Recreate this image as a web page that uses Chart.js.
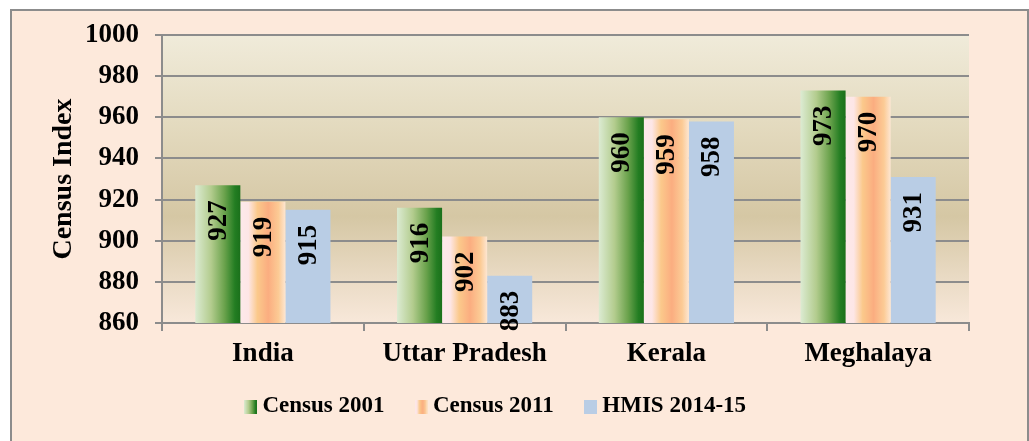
<!DOCTYPE html>
<html>
<head>
<meta charset="utf-8">
<script src="https://cdn.jsdelivr.net/npm/chart.js@4.4.0/dist/chart.umd.min.js"></script>
<style>
html,body{margin:0;padding:0;background:#ffffff;}
canvas{display:block;}
</style>
</head>
<body>
<canvas id="c" width="1029" height="441"></canvas>
<script>
const categories = ['India', 'Uttar Pradesh', 'Kerala', 'Meghalaya'];
const seriesNames = ['Census 2001', 'Census 2011', 'HMIS 2014-15'];
const census2001 = [927, 916, 960, 973];
const census2011 = [919, 902, 959, 970];
const hmis201415 = [915, 883, 958, 931];
const yTicks = { min: 860, max: 1000, step: 20 };

const FONT = "'Liberation Serif', 'Times New Roman', serif";
const GRID = '#8c8c8c';

const gradStops = [
  [[0, '#dcebd2'], [0.35, '#b3cc8e'], [0.65, '#6aa24c'], [0.88, '#237d22'], [1, '#1b701b']],
  [[0, '#fde9ea'], [0.18, '#fde6e6'], [0.38, '#fbc98b'], [0.62, '#fbad80'], [0.85, '#fccb95'], [1, '#fde6d2']],
  [[0, '#b9cde5'], [1, '#b9cde5']]
];

function makeSwatch(stops, w, h) {
  const cv = document.createElement('canvas');
  cv.width = w; cv.height = h;
  const c = cv.getContext('2d');
  const g = c.createLinearGradient(0, 0, w, 0);
  stops.forEach(s => g.addColorStop(s[0], s[1]));
  c.fillStyle = g;
  c.fillRect(0, 0, w, h);
  return cv;
}
const swatches = gradStops.map(s => makeSwatch(s, 13, 14));

const frame = {
  id: 'frame',
  afterLayout(chart) {
    const lg = chart.legend;
    if (lg) { lg.left -= 8; lg.right -= 8; lg.top -= 9; lg.bottom -= 9; }
  },
  beforeDraw(chart) {
    const c = chart.ctx;
    c.save();
    c.fillStyle = '#ffffff';
    c.fillRect(0, 0, chart.width, chart.height);
    c.fillStyle = '#fde9db';
    c.fillRect(11, 10, 1017, 440);
    c.strokeStyle = GRID;
    c.lineWidth = 2;
    c.strokeRect(11, 10, 1017, 440);
    const a = chart.chartArea;
    const g = c.createLinearGradient(0, a.top, 0, a.bottom);
    g.addColorStop(0, '#f0ebda');
    g.addColorStop(0.3, '#e4dbc0');
    g.addColorStop(0.63, '#d5c7a4');
    g.addColorStop(0.85, '#eadbc5');
    g.addColorStop(1, '#f8e8da');
    c.fillStyle = g;
    c.fillRect(a.left, a.top, a.right - a.left, a.bottom - a.top);
    c.restore();
  }
};

const barGradients = {
  id: 'barGradients',
  beforeDatasetsDraw(chart) {
    const c = chart.ctx;
    chart.data.datasets.forEach((ds, di) => {
      const meta = chart.getDatasetMeta(di);
      meta.data.forEach(el => {
        const x0 = el.x - el.width / 2, x1 = el.x + el.width / 2;
        const g = c.createLinearGradient(x0, 0, x1, 0);
        gradStops[di].forEach(s => g.addColorStop(s[0], s[1]));
        el.options = Object.assign({}, el.options, { backgroundColor: g });
      });
    });
  }
};

const valueLabels = {
  id: 'valueLabels',
  afterDatasetsDraw(chart) {
    const c = chart.ctx;
    c.save();
    c.font = 'bold 27px ' + FONT;
    c.fillStyle = '#000000';
    c.textAlign = 'right';
    c.textBaseline = 'middle';
    chart.data.datasets.forEach((ds, di) => {
      const meta = chart.getDatasetMeta(di);
      meta.data.forEach((el, i) => {
        c.save();
        c.translate(el.x + 1, el.y + 15);
        c.rotate(-Math.PI / 2);
        c.fillText(String(ds.data[i]), 0, 0);
        c.restore();
      });
    });
    c.restore();
  }
};

const seriesData = [census2001, census2011, hmis201415];

new Chart(document.getElementById('c'), {
  type: 'bar',
  data: {
    labels: categories,
    datasets: seriesNames.map((n, i) => ({
      label: n,
      data: seriesData[i],
      backgroundColor: gradStops[i][0][1],
      borderWidth: 0,
      categoryPercentage: 0.67,
      barPercentage: 1.0
    }))
  },
  options: {
    responsive: false,
    animation: false,
    devicePixelRatio: 1,
    layout: { padding: { left: 43, right: 60, top: 35, bottom: 4 } },
    plugins: {
      tooltip: { enabled: false },
      legend: {
        position: 'bottom',
        labels: {
          font: { family: FONT, size: 23, weight: 'bold' },
          color: '#000000',
          boxWidth: 1,
          boxHeight: 14,
          padding: 36,
          usePointStyle: true,
          generateLabels(chart) {
            return chart.data.datasets.map((ds, i) => ({
              text: ds.label,
              pointStyle: swatches[i],
              fillStyle: gradStops[i][0][1],
              strokeStyle: 'transparent',
              lineWidth: 0,
              hidden: false,
              datasetIndex: i
            }));
          }
        }
      }
    },
    scales: {
      x: {
        offset: true,
        grid: { drawOnChartArea: false, drawTicks: true, tickLength: 8, color: GRID, lineWidth: 2, offset: true },
        border: { display: true, color: GRID, width: 2 },
        ticks: { font: { family: FONT, size: 27, weight: 'bold' }, color: '#000000', padding: 7 },
        afterFit(s) { s.height = 45; }
      },
      y: {
        min: yTicks.min,
        max: yTicks.max,
        ticks: {
          stepSize: yTicks.step,
          font: { family: FONT, size: 27, weight: 'bold' },
          color: '#000000',
          padding: 16,
          callback: v => String(v)
        },
        grid: { color: GRID, lineWidth: 2, tickLength: 7 },
        border: { display: true, color: GRID, width: 2 },
        title: { display: true, text: 'Census Index', font: { family: FONT, size: 28, weight: 'bold' }, color: '#000000', padding: { top: 4, bottom: 4 } },
        afterFit(s) { s.width = 119; }
      }
    }
  },
  plugins: [frame, barGradients, valueLabels]
});
</script>
</body>
</html>
